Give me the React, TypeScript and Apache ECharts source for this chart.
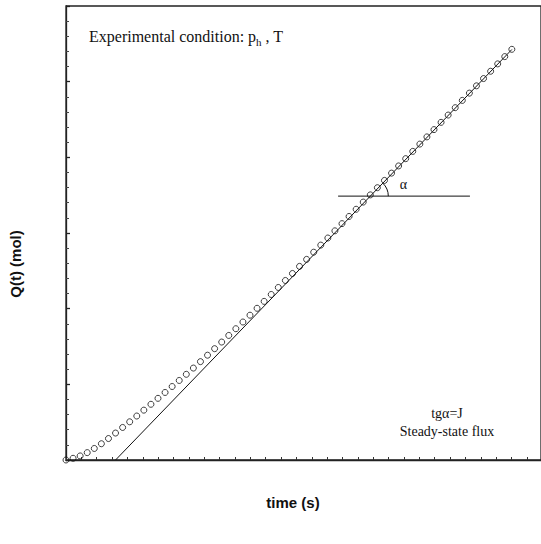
import React, { useEffect, useRef } from "react";
import * as echarts from "echarts";

// sampling instants (arbitrary time units, one per measurement)
const time = [
  0, 1, 2, 3, 4, 5, 6, 7, 8, 9, 10, 11, 12, 13, 14, 15, 16, 17, 18, 19, 20,
  21, 22, 23, 24, 25, 26, 27, 28, 29, 30, 31, 32, 33, 34, 35, 36, 37, 38, 39,
  40, 41, 42, 43, 44, 45, 46, 47, 48, 49, 50, 51, 52, 53, 54, 55, 56, 57, 58,
  59, 60, 61, 62, 63,
];
// permeated quantity Q(t) (arbitrary units)
const quantity = [
  0, 1.8, 4.3, 7.8, 12.2, 17.2, 22.7, 28.5, 34.4, 40.4, 46.5, 52.7, 58.9, 65.2,
  71.4, 77.7, 84.1, 90.6, 97.2, 104.0, 110.8, 117.7, 124.7, 131.7, 138.8,
  145.9, 153.1, 160.4, 167.7, 175.0, 182.4, 189.8, 197.2, 204.7, 212.1, 219.7,
  227.2, 234.7, 242.3, 249.9, 257.5, 265.1, 272.7, 280.3, 287.9, 295.6, 303.3,
  310.9, 318.6, 326.3, 334.0, 341.6, 349.3, 357.0, 364.7, 372.5, 380.2, 387.9,
  395.6, 403.3, 411.0, 418.8, 426.5, 434.2,
];
// steady-state asymptote
const steadyTime = [7, 63];
const steadyQuantity = [0, 434];
// horizontal reference line used for the angle alpha
const refTime = [38.45, 57.08];
const refQuantity = [279, 279];

const X_MAX = 67.12;
const Y_MAX = 480;

export default function App() {
  const ref = useRef<HTMLDivElement>(null);
  useEffect(() => {
    if (!ref.current) return;
    const chart = echarts.init(ref.current, null, { renderer: "svg" });
    const serif = "Liberation Serif";
    const sans = "Liberation Sans";
    chart.setOption({
      animation: false,
      backgroundColor: "#ffffff",
      grid: {
        left: 66,
        top: 6,
        width: 490,
        height: 454,
        show: true,
        borderColor: "#222",
        borderWidth: 1.3,
        backgroundColor: "transparent",
      },
      xAxis: {
        type: "value",
        min: 0,
        max: X_MAX,
        interval: 2.171,
        axisLine: { show: true, lineStyle: { color: "#222", width: 1.3 } },
        axisTick: { show: true, inside: true, length: 3, lineStyle: { color: "#333" } },
        axisLabel: { show: false },
        splitLine: { show: false },
      },
      yAxis: {
        type: "value",
        min: 0,
        max: Y_MAX,
        interval: 80,
        axisLine: { show: true, lineStyle: { color: "#222", width: 1.3 } },
        axisTick: { show: true, inside: true, length: 4, lineStyle: { color: "#222", width: 1.3 } },
        minorTick: { show: true, splitNumber: 5, length: 3, lineStyle: { color: "#444" } },
        axisLabel: { show: false },
        splitLine: { show: false },
        minorSplitLine: { show: false },
      },
      series: [
        {
          type: "scatter",
          data: time.map((t, i) => [t, quantity[i]]),
          symbol: "circle",
          symbolSize: 6,
          itemStyle: { color: "transparent", borderColor: "#111", borderWidth: 1 },
          z: 2,
        },
        {
          type: "line",
          data: steadyTime.map((t, i) => [t, steadyQuantity[i]]),
          symbol: "none",
          lineStyle: { color: "#111", width: 1 },
          z: 3,
        },
        {
          type: "line",
          data: refTime.map((t, i) => [t, refQuantity[i]]),
          symbol: "none",
          lineStyle: { color: "#111", width: 1 },
          z: 3,
        },
      ],
    });

    const slope = (steadyQuantity[1] - steadyQuantity[0]) / (steadyTime[1] - steadyTime[0]);
    const tCross = steadyTime[0] + (refQuantity[0] - steadyQuantity[0]) / slope;
    const p = chart.convertToPixel({ gridIndex: 0 }, [tCross, refQuantity[0]]) as number[];
    const p2 = chart.convertToPixel({ gridIndex: 0 }, [steadyTime[1], steadyQuantity[1]]) as number[];
    const angle = Math.atan2(p[1] - p2[1], p2[0] - p[0]);

    chart.setOption({
      graphic: [
        {
          type: "arc",
          shape: { cx: p[0], cy: p[1], r: 18, startAngle: -angle, endAngle: 0, clockwise: true },
          style: { stroke: "#111", fill: "none", lineWidth: 1 },
          z: 10,
        },
        {
          type: "text",
          x: p[0] + 33,
          y: p[1] - 12,
          style: {
            text: "α",
            font: `14px "${serif}"`,
            fill: "#111",
            align: "center",
            verticalAlign: "middle",
          },
          z: 10,
        },
        {
          type: "text",
          x: 89,
          y: 36,
          style: {
            text: "{a|Experimental condition: p}{s|h}{a| , T}",
            fill: "#111",
            align: "left",
            verticalAlign: "middle",
            rich: {
              a: { fontFamily: serif, fontSize: 16, lineHeight: 22, fill: "#111", verticalAlign: "middle" },
              s: { fontFamily: serif, fontSize: 11, fill: "#111", verticalAlign: "bottom" },
            },
          },
          z: 10,
        },
        {
          type: "text",
          x: 447,
          y: 413,
          style: {
            text: "tgα=J",
            font: `14px "${serif}"`,
            fill: "#111",
            align: "center",
            verticalAlign: "middle",
          },
        },
        {
          type: "text",
          x: 447,
          y: 431,
          style: {
            text: "Steady-state flux",
            font: `14px "${serif}"`,
            fill: "#111",
            align: "center",
            verticalAlign: "middle",
          },
        },
        {
          type: "text",
          x: 293,
          y: 502,
          style: {
            text: "time (s)",
            font: `bold 15px "${sans}"`,
            fill: "#111",
            align: "center",
            verticalAlign: "middle",
          },
        },
        {
          type: "text",
          x: 15,
          y: 264,
          rotation: Math.PI / 2,
          style: {
            text: "Q(t) (mol)",
            font: `bold 15px "${sans}"`,
            fill: "#111",
            align: "center",
            verticalAlign: "middle",
          },
        },
      ],
    });

    return () => chart.dispose();
  }, []);

  return (
    <div
      ref={ref}
      style={{ position: "fixed", left: 0, top: 0, width: 541, height: 544, background: "#fff" }}
    />
  );
}
